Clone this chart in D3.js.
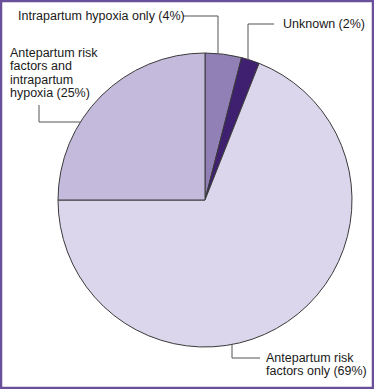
<!DOCTYPE html>
<meta charset="utf-8">
<style>
body { margin: 0; background: #fff; }
svg { display: block; }
.slices path { stroke: #3a3a3a; stroke-width: 1px; }
.leaders path { fill: none; stroke: #555; stroke-width: 1px; }
.labels text { font: 12.5px "Liberation Sans", Arial, sans-serif; fill: #1a1a1a; }
</style>
<svg width="374" height="389"></svg>
<script src="https://d3js.org/d3.v7.min.js"></script>
<script>

// data
var categories = ["Intrapartum hypoxia only", "Unknown", "Antepartum risk factors only", "Antepartum risk factors and intrapartum hypoxia"];
var values = [4, 2, 69, 25];
var colors = ["#9180b6", "#3f1f70", "#dbd6eb", "#c4badb"];
var labelLines = [
  ["Intrapartum hypoxia only (4%)"],
  ["Unknown (2%)"],
  ["Antepartum risk", "factors only (69%)"],
  ["Antepartum risk", "factors and", "intrapartum", "hypoxia (25%)"]
];

var svg = d3.select("svg"),
    width = +svg.attr("width"),
    height = +svg.attr("height");

var cx = 205, cy = 200, radius = 147;

// frame
svg.append("rect")
    .attr("x", 1).attr("y", 1)
    .attr("width", width - 2).attr("height", height - 2)
    .attr("fill", "none")
    .attr("stroke", "#6a4f9b")
    .attr("stroke-width", 2.5);

var pie = d3.pie().sort(null).value(function(d) { return d; });
var arc = d3.arc().innerRadius(0).outerRadius(radius);
var arcs = pie(values);

var g = svg.append("g").attr("transform", "translate(" + cx + "," + cy + ")");

g.append("g").attr("class", "slices")
  .selectAll("path")
  .data(arcs)
  .enter().append("path")
    .attr("d", arc)
    .attr("fill", function(d, i) { return colors[i]; });

// leader lines: anchor angle (deg, clockwise from 12), elbow and text position
var leaders = [
  { angle: 5.1,   elbow: [218, 16],  end: [183, 16],  text: [18, 20],  anchor: "start" },
  { angle: 17.6,  elbow: [248, 24],  end: [274, 24],  text: [283, 28], anchor: "start" },
  { angle: 169.4, elbow: [232, 358], end: [260, 358], text: [266, 362], anchor: "start" },
  { angle: 302,   elbow: [39, 122],  end: [39, 105],  text: [10, 57],  anchor: "start" }
];

function onArc(deg) {
  var a = deg * Math.PI / 180;
  return [cx + radius * Math.sin(a), cy - radius * Math.cos(a)];
}

svg.append("g").attr("class", "leaders")
  .selectAll("path")
  .data(leaders)
  .enter().append("path")
    .attr("d", function(d) {
      var p = onArc(d.angle);
      // first leg goes straight (vertical or horizontal) to elbow
      var start = (d.elbow[0] === Math.round(p[0]) || Math.abs(d.elbow[0] - p[0]) < 2) ? [d.elbow[0], p[1]] : [p[0], d.elbow[1]];
      return d3.line()([start, d.elbow, d.end]);
    });

var lab = svg.append("g").attr("class", "labels")
  .selectAll("text")
  .data(leaders)
  .enter().append("text")
    .attr("x", function(d) { return d.text[0]; })
    .attr("y", function(d) { return d.text[1]; });

lab.each(function(d, i) {
  d3.select(this).selectAll("tspan")
    .data(labelLines[i])
    .enter().append("tspan")
      .attr("x", d.text[0])
      .attr("dy", function(t, j) { return j === 0 ? 0 : 13.3; })
      .text(function(t) { return t; });
});

</script>
